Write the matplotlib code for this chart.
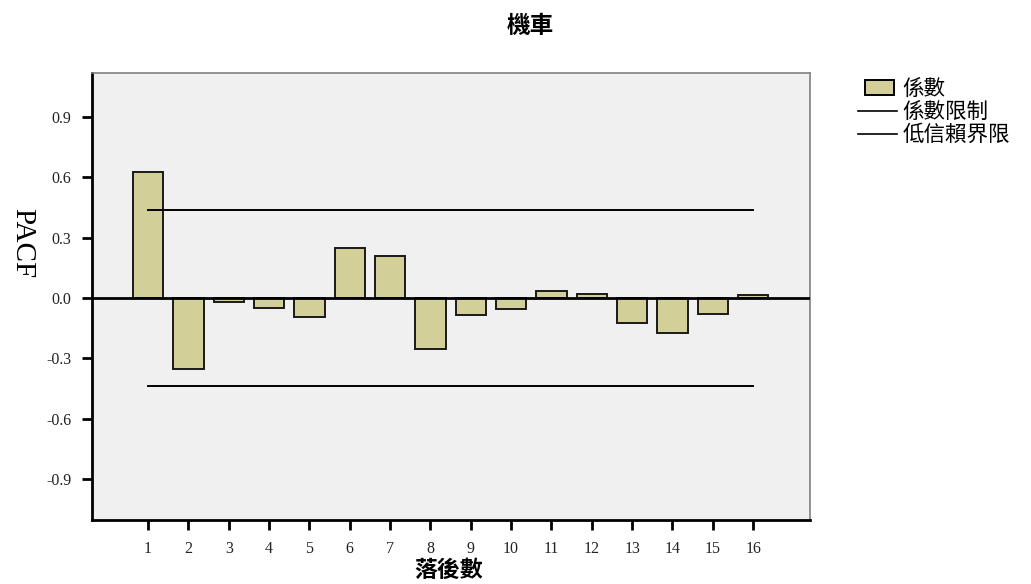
import matplotlib
matplotlib.use('Agg')
import matplotlib.pyplot as plt
from matplotlib.patches import Patch, Rectangle
from matplotlib.lines import Line2D
from matplotlib.legend_handler import HandlerPatch

# PACF of the motorcycle series
lags = list(range(1, 17))
pacf = [0.629, -0.351, -0.022, -0.052, -0.097, 0.251, 0.211, -0.256,
        -0.087, -0.054, 0.036, 0.019, -0.125, -0.176, -0.082, 0.016]
upper_limit = 0.438
lower_limit = -0.438

title = '機車'
x_label = '落後數'
y_label = 'PACF'
legend_labels = ['係數', '係數限制', '低信賴界限']
y_ticks = [-0.9, -0.6, -0.3, 0.0, 0.3, 0.6, 0.9]

cjk = ['Noto Sans CJK TC', 'DejaVu Sans']
serif = ['Liberation Serif', 'DejaVu Serif']
bar_color = '#D3CF98'

fig = plt.figure(figsize=(10.31, 5.84), dpi=100)
ax = fig.add_axes([92 / 1031, 1 - 520 / 584, (810 - 92) / 1031, (520 - 73) / 584])
ax.set_facecolor('#F0F0F0')

ax.bar(lags, pacf, width=0.75, color=bar_color, edgecolor='#1a1a1a',
       linewidth=1.4, zorder=2)
ax.axhline(0, color='black', linewidth=2, zorder=3)
ax.plot([lags[0], lags[-1]], [upper_limit, upper_limit], color='black',
        linewidth=1.4, zorder=3)
ax.plot([lags[0], lags[-1]], [lower_limit, lower_limit], color='black',
        linewidth=1.4, zorder=3)

ax.set_xlim(-0.39, 17.41)
ax.set_ylim(-1.105, 1.12)
ax.set_xticks(lags)
ax.set_xticklabels([str(l) for l in lags], fontfamily=serif, fontsize=11.5,
                   color='#222222')
ax.set_yticks(y_ticks)
ax.set_yticklabels(['%.1f' % v for v in y_ticks], fontfamily=serif,
                   fontsize=11.5, color='#222222')
ax.tick_params(axis='both', direction='out', length=7, width=2, color='black',
               pad=8)

for side in ['left', 'bottom']:
    ax.spines[side].set_linewidth(2)
    ax.spines[side].set_color('black')
for side in ['top', 'right']:
    ax.spines[side].set_linewidth(1.2)
    ax.spines[side].set_color('#808080')

# axis titles placed in figure coordinates
fig.text(449 / 1031, 1 - 570 / 584, x_label, ha='center', va='center',
         fontfamily=cjk, fontsize=16.5, fontweight='bold')
fig.text(22 / 1031, 1 - 243 / 584, y_label, rotation=270, ha='center',
         va='center', fontfamily=serif, fontsize=21)
fig.text(530 / 1031, 1 - 26 / 584, title, ha='center', va='center',
         fontfamily=cjk, fontsize=17, fontweight='bold')


# narrower swatch for the bar entry, sitting at the right of the handle box
def swatch(legend, orig_handle, xdescent, ydescent, width, height, fontsize):
    w = width * 0.73
    return Rectangle((-xdescent + width * 0.92 - w, -ydescent), w, height)


handles = [
    Patch(facecolor=bar_color, edgecolor='black', linewidth=1.4),
    Line2D([], [], color='black', linewidth=1.2),
    Line2D([], [], color='black', linewidth=1.2),
]
fig.legend(handles, legend_labels, loc='upper left',
           bbox_to_anchor=(858 / 1031, 1 - 78 / 584), frameon=False,
           prop={'family': cjk, 'size': 15.5}, handlelength=1.8,
           handleheight=0.7, handletextpad=0.25, labelspacing=0.05,
           borderaxespad=0, borderpad=0,
           handler_map={Patch: HandlerPatch(patch_func=swatch)})

fig.savefig('out.png', dpi=100)
